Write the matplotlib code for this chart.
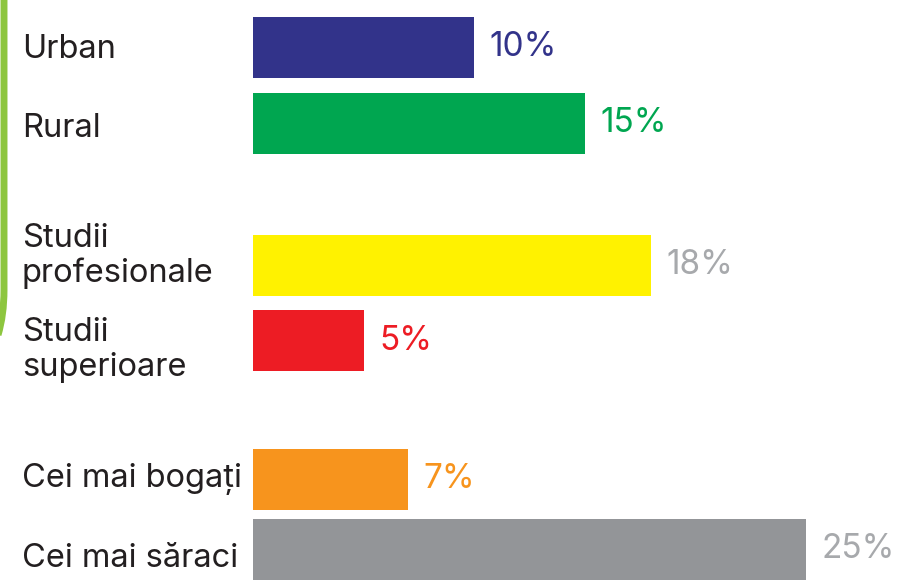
import matplotlib
matplotlib.use("Agg")
import matplotlib.pyplot as plt
from matplotlib.path import Path
from matplotlib.patches import PathPatch

plt.rcParams['font.family'] = ['Inter', 'DejaVu Sans']

# categories and shares (%)
labels = ["Urban", "Rural", "Studii\nprofesionale", "Studii\nsuperioare",
          "Cei mai bogați", "Cei mai săraci"]
values = [10, 15, 18, 5, 7, 25]
bar_colors = ["#32338a", "#00a650", "#fff200", "#ed1c24", "#f7941d", "#939598"]
text_colors = ["#32338a", "#00a650", "#a7a9ac", "#ed1c24", "#f7941d", "#a7a9ac"]

# vertical layout (pixel rows, top-down)
W, H = 897, 582
centers = [47, 123, 265, 340.5, 479, 549.5]
label_baselines = [58, 137, 282, 376, 487, 567]  # baseline of the last line
bar_h = 61

fig = plt.figure(figsize=(W / 100, H / 100), dpi=100)
ax = fig.add_axes([253 / W, 0, (806 - 253) / W, 1])
ax.set_xlim(0, max(values))
ax.set_ylim(H, 0)
ax.axis("off")

ax.barh(centers, values, height=bar_h, color=bar_colors, linewidth=0)

for c, v, col in zip(centers, values, text_colors):
    ax.annotate(f"{v}%", xy=(v, c), xytext=(11, 0), textcoords="offset points",
                ha="left", va="center", fontsize=24, color=col,
                annotation_clip=False)

for b, lab in zip(label_baselines, labels):
    fig.text(22 / W, 1 - b / H, lab, ha="left", va="baseline", fontsize=23.5,
             color="#231f20", linespacing=1.15)

# green frame edge on the left
verts = [(4, 0), (4, 290), (4, 315), (-2, 335)]
codes = [Path.MOVETO, Path.LINETO, Path.CURVE3, Path.CURVE3]
verts_fig = [(x / W, 1 - y / H) for x, y in verts]
fig.patches.append(PathPatch(Path(verts_fig, codes), transform=fig.transFigure,
                             fill=False, edgecolor="#8dc63f", linewidth=5,
                             capstyle="butt"))

fig.savefig("out.png", dpi=100)
